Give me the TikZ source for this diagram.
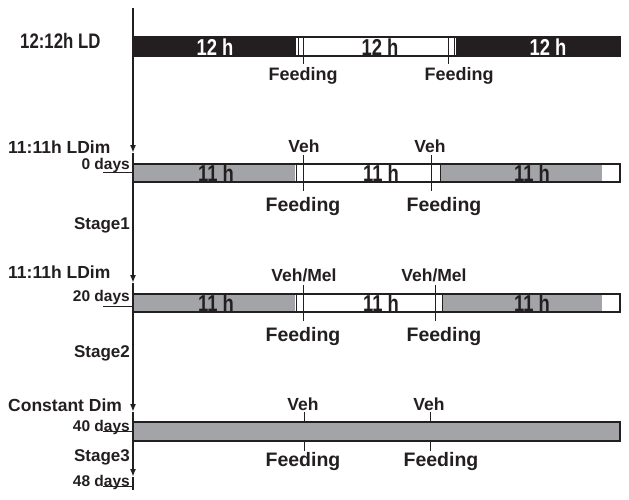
\documentclass[tikz,border=0pt]{standalone}
\usepackage{fontspec}
\setmainfont{Liberation Sans}
\newfontfamily\condfont[FakeStretch=0.8]{Liberation Sans}
\usetikzlibrary{arrows.meta}
\definecolor{barink}{RGB}{35,31,32}
\definecolor{dimgray}{RGB}{163,164,167}

\begin{document}
\begin{tikzpicture}[
  x=1pt, y=-1pt,
  every node/.style={inner sep=0pt, text=barink},
  side/.style={font=\bfseries\fontsize{17.5}{18}\selectfont, anchor=base west},
  dayslab/.style={font=\bfseries\fontsize{15.5}{16}\selectfont, anchor=base east},
  stagelab/.style={font=\bfseries\fontsize{17}{18}\selectfont, anchor=base east},
  hours/.style={font=\condfont\bfseries\fontsize{23}{24}\selectfont, anchor=base},
  feed/.style={font=\bfseries\fontsize{19.5}{20}\selectfont, anchor=base},
  drug/.style={font=\bfseries\fontsize{17.5}{18}\selectfont, anchor=base},
  barline/.style={draw=barink, line width=1.5pt},
  tick/.style={draw=barink, line width=1pt},
  axis/.style={draw=barink, line width=2pt, -{Latex[length=8pt,width=6pt]}}
]
\useasboundingbox (0,0) rectangle (629,499);

% time axis
\coordinate (top) at (133,8);
\coordinate (a1) at (133,153);
\coordinate (a2) at (133,283);
\coordinate (a3) at (133,412);
\coordinate (a4) at (133,477);
\coordinate (bot) at (133,490);
\foreach \a/\b in {top/a1, a1/a2, a2/a3, a3/a4}
  \draw[axis] (\a) -- (\b);
\draw[barink, line width=2pt] (a4) -- (bot);

% 12:12h LD
\fill[barink] (133,37) rectangle (296,56);
\fill[barink] (456,37) rectangle (620,56);
\draw[barline] (133,37) rectangle (620,56);
\draw[tick] (298,37) -- (298,56);
\draw[tick] (454,37) -- (454,56);
\foreach \x in {303,448}
  \draw[tick] (\x,37) -- (\x,64);
\node[font=\condfont\bfseries\fontsize{21}{22}\selectfont, anchor=base west] (ld) at (20,48) {12:12h LD};
\node[hours, text=white] (ld1) at (215,55) {12 h};
\node[hours] (ld2) at (380,55) {12 h};
\node[hours, text=white] (ld3) at (548,55) {12 h};
\node[feed, font=\bfseries\fontsize{18}{19}\selectfont] (feed01) at (303,80) {Feeding};
\node[feed, font=\bfseries\fontsize{18}{19}\selectfont] (feed02) at (459,80) {Feeding};

% 11:11h LDim, stage 1 and stage 2
\foreach \t/\b/\v/\vb/\fb/\tx/\tb/\dy/\dd/\st/\sb/\vx/\cut in
  {0/164/Veh/152/211/153/169/172/0/1/229/431/440,
   1/294/Veh\slash Mel/281/341/278/301/306/20/2/357/435/442}{
  \fill[dimgray] (133,\b) rectangle (295,\b+18);
  \fill[dimgray] (\cut,\b) rectangle (602,\b+18);
  \draw[barline] (133,\b) rectangle (620,\b+18);
  \draw[tick] (296,\b) -- (296,\b+18);
  \draw[tick] (\cut,\b) -- (\cut,\b+18);
  \draw[tick] (303,\b-9) -- (303,\b+27);
  \draw[tick] (\vx,\b-9) -- (\vx,\b+27);
  \draw[tick] (103,\dy) -- (133,\dy);
  \node[side] (ldim\t) at (8,\tx) {11:11h LDim};
  \node[dayslab] (days\t) at (130,\tb) {\dd\ days};
  \node[stagelab] (stage\t) at (130,\sb) {Stage\st};
  \node[hours] (hl\t) at (216,\b+17) {11 h};
  \node[hours] (hm\t) at (381,\b+17) {11 h};
  \node[hours] (hr\t) at (532,\b+17) {11 h};
  \node[drug] (drugl\t) at (304,\vb) {\v};
  \node[drug] (drugr\t) at (\vx-1,\vb) {\v};
  \node[feed] (feedl\t) at (303,\fb) {Feeding};
  \node[feed] (feedr\t) at (444,\fb) {Feeding};
}

% constant dim, stage 3
\foreach \x in {304,430}
  \draw[tick] (\x,412) -- (\x,451);
\fill[dimgray] (133,422) rectangle (620,441);
\draw[barline] (133,422) rectangle (620,441);
\draw[tick] (103,431) -- (133,431);
\draw[tick] (103,486) -- (133,486);
\node[side] (cdim) at (8,411) {Constant Dim};
\node[dayslab] (days40) at (130,431) {40 days};
\node[stagelab] (stage3) at (130,461) {Stage3};
\node[dayslab] (days48) at (130,486) {48 days};
\node[drug] (veh31) at (303,410) {Veh};
\node[drug] (veh32) at (429,410) {Veh};
\node[feed] (feed31) at (303,466) {Feeding};
\node[feed] (feed32) at (441,466) {Feeding};
\end{tikzpicture}
\end{document}
